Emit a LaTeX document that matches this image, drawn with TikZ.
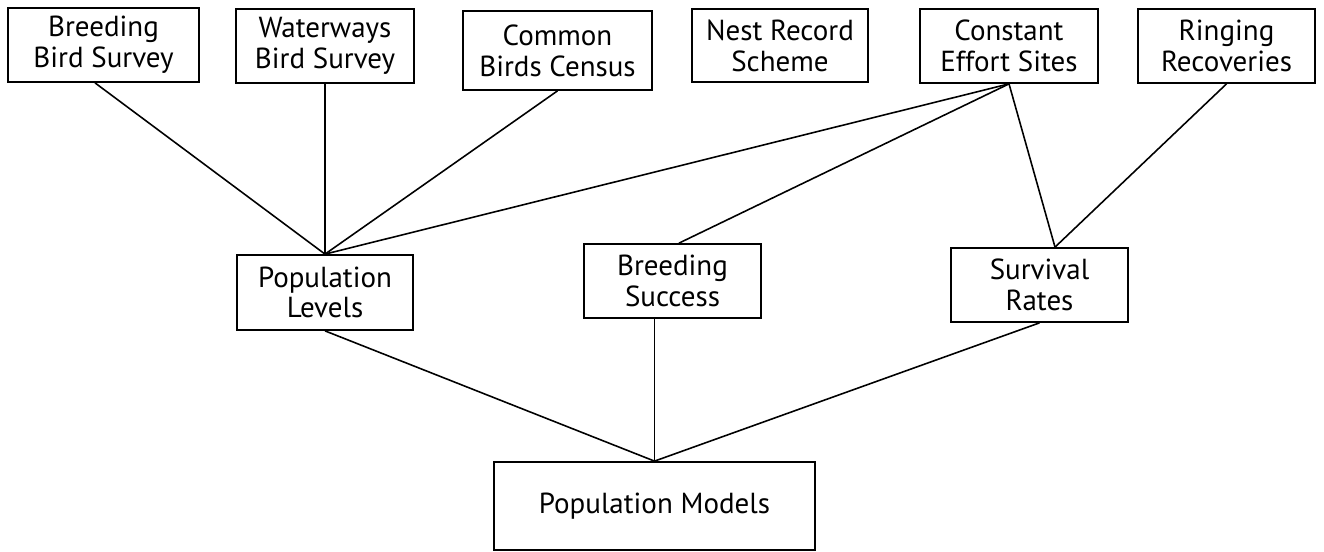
\documentclass[tikz,border=0pt]{standalone}
\usepackage{fontspec}
\setmainfont{PT Sans}
\begin{document}
\begin{tikzpicture}[x=1cm,y=-1cm,
    box/.style={draw=black,line width=1pt,align=center,inner sep=0pt,
      font=\fontsize{16.5}{17.5}\selectfont},
    link/.style={draw=black,line width=0.9pt}]
  \useasboundingbox (0,0) rectangle (26.48,11.04);
  % sources
  \node[box,minimum width=3.82cm,minimum height=1.48cm] (bbs) at (2.07,0.90) {Breeding\\Bird Survey};
  \node[box,minimum width=3.56cm,minimum height=1.48cm] (wbs) at (6.50,0.92) {Waterways\\Bird Survey};
  \node[box,minimum width=3.78cm,minimum height=1.58cm] (cbc) at (11.15,1.01) {Common\\Birds Census};
  \node[box,minimum width=3.52cm,minimum height=1.46cm] (nrs) at (15.60,0.91) {Nest Record\\Scheme};
  \node[box,minimum width=3.56cm,minimum height=1.48cm] (ces) at (20.18,0.92) {Constant\\Effort Sites};
  \node[box,minimum width=3.54cm,minimum height=1.48cm] (rr) at (24.53,0.92) {Ringing\\Recoveries};
  % measures
  \node[box,minimum width=3.52cm,minimum height=1.50cm] (pl) at (6.50,5.85) {Population\\Levels};
  \node[box,minimum width=3.54cm,minimum height=1.48cm] (bs) at (13.45,5.62) {Breeding\\Success};
  \node[box,minimum width=3.54cm,minimum height=1.48cm] (sr) at (20.79,5.70) {Survival\\Rates};
  % model
  \node[box,minimum width=6.42cm,minimum height=1.76cm] (pm) at (13.09,10.12) {Population Models};

  \draw[link] ([xshift=-0.17cm]bbs.south) -- (pl.north);
  \draw[link] (wbs.south) -- (pl.north);
  \draw[link] (cbc.south) -- (pl.north);
  \draw[link] (ces.south) -- (pl.north);
  \draw[link] (ces.south) -- ([xshift=0.13cm]bs.north);
  \draw[link] (ces.south) -- ([xshift=0.31cm]sr.north);
  \draw[link] (rr.south) -- ([xshift=0.31cm]sr.north);
  \draw[link] (pl.south) -- (pm.north);
  \draw[link] (bs.south -| pm.north) -- (pm.north);
  \draw[link] (sr.south) -- (pm.north);
\end{tikzpicture}
\end{document}
